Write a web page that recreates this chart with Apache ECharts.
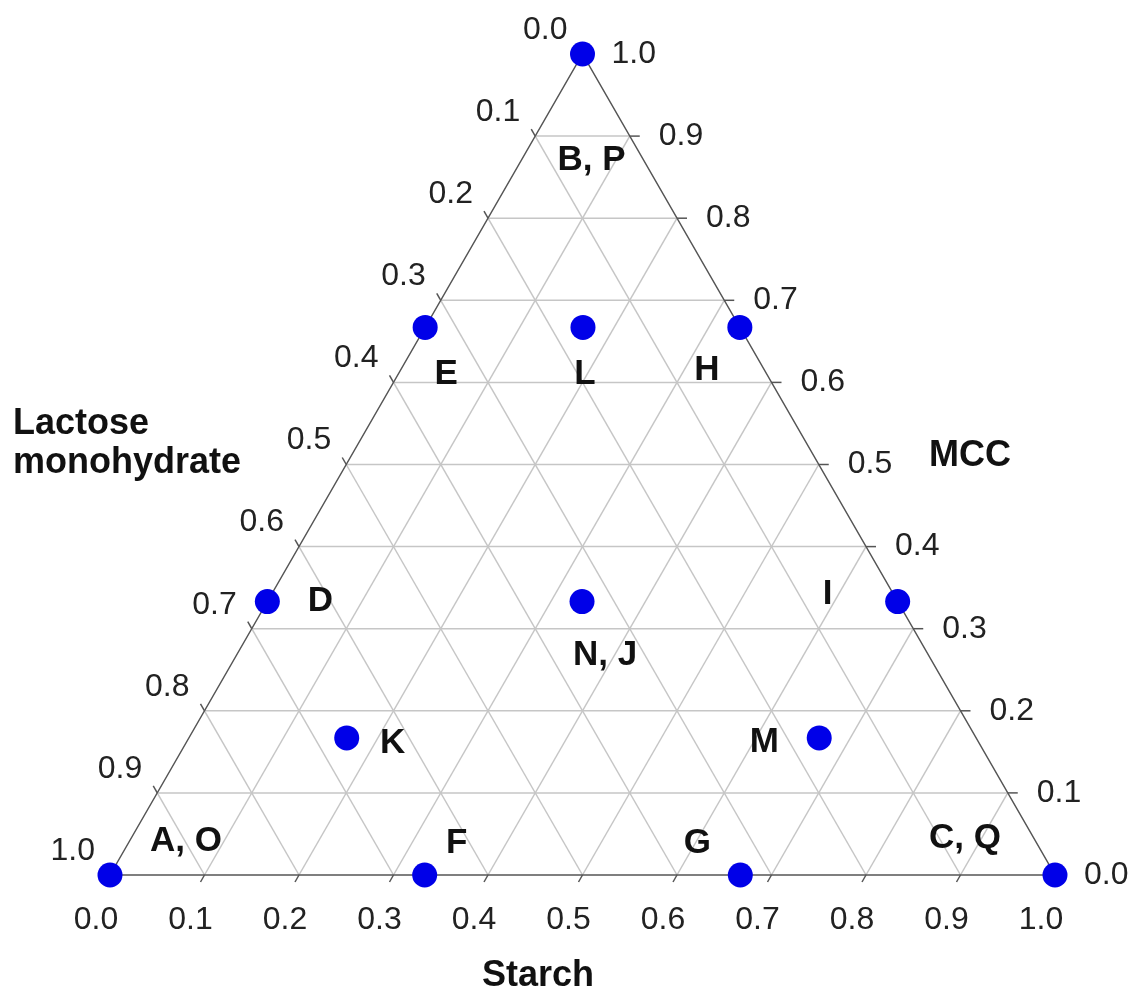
<!DOCTYPE html>
<html>
<head>
<meta charset="utf-8">
<script src="https://cdn.jsdelivr.net/npm/echarts@6/dist/echarts.min.js"></script>
<style>
  html, body { margin: 0; padding: 0; background: #fff; }
  #chart { width: 1136px; height: 994px; }
</style>
</head>
<body>
<div id="chart"></div>
<script>
// mixtures: fractions of lactose, MCC and starch
const pointNames = ['A, O', 'B, P', 'C, Q', 'D', 'E', 'F', 'G', 'H', 'I', 'K', 'L', 'M', 'N, J'];
const lactose = [1, 0, 0, 0.667, 0.333, 0.667, 0.333, 0, 0, 0.667, 0.167, 0.167, 0.333];
const mcc     = [0, 1, 0, 0.333, 0.667, 0, 0, 0.667, 0.333, 0.167, 0.667, 0.167, 0.333];
const starch  = [0, 0, 1, 0, 0, 0.333, 0.667, 0.333, 0.667, 0.167, 0.167, 0.667, 0.333];

const tickValues = [0, 0.1, 0.2, 0.3, 0.4, 0.5, 0.6, 0.7, 0.8, 0.9, 1.0];
const tickLabels = ['0.0', '0.1', '0.2', '0.3', '0.4', '0.5', '0.6', '0.7', '0.8', '0.9', '1.0'];

// pixel offsets of the letter labels from their dot
const labelOffsets = [[76, -34], [9, 106], [-90, -37], [53, 0], [21, 47], [32, -32], [-43, -32],
  [-33, 43], [-70, -7], [46, 5], [2, 47], [-55, 4], [23, 54]];

const FONT = '"Liberation Sans", Arial, sans-serif';

// ternary -> cartesian (x along starch, y = MCC)
const toXY = (l, m, s) => [s + m / 2, m];

const renderFrame = (params, api) => {
  const children = [];
  const pt = (l, m, s) => api.coord(toXY(l, m, s));
  const line = (a, b, color, width) => children.push({
    type: 'line',
    shape: { x1: a[0], y1: a[1], x2: b[0], y2: b[1] },
    style: { stroke: color, lineWidth: width }
  });
  const text = (p, str, align) => children.push({
    type: 'text',
    x: p[0], y: p[1],
    style: { text: str, fontSize: 32, fontFamily: FONT, fill: '#222', align: align, verticalAlign: 'middle' }
  });

  // grid lines
  for (let k = 1; k < tickValues.length - 1; k++) {
    const v = tickValues[k];
    line(pt(1 - v, v, 0), pt(0, v, 1 - v), '#c6c6c6', 1.5);
    line(pt(1 - v, 0, v), pt(0, 1 - v, v), '#c6c6c6', 1.5);
    line(pt(v, 1 - v, 0), pt(v, 0, 1 - v), '#c6c6c6', 1.5);
  }

  // triangle outline
  const a = pt(1, 0, 0), b = pt(0, 1, 0), c = pt(0, 0, 1);
  children.push({
    type: 'polygon',
    shape: { points: [a, b, c] },
    style: { fill: null, stroke: '#555', lineWidth: 1.5 }
  });

  // ticks and tick labels
  tickValues.forEach((v, i) => {
    const ps = pt(1 - v, 0, v);
    line(ps, [ps[0] - 4, ps[1] + 7], '#555', 1.5);
    text([ps[0] - 14, ps[1] + 45], tickLabels[i], 'center');

    const pm = pt(0, v, 1 - v);
    line(pm, [pm[0] + 10, pm[1]], '#555', 1.5);
    text([pm[0] + 29, pm[1]], tickLabels[i], 'left');

    const pl = pt(v, 1 - v, 0);
    line(pl, [pl[0] - 4, pl[1] - 7], '#555', 1.5);
    text([pl[0] - 15, pl[1] - 24], tickLabels[i], 'right');
  });

  return { type: 'group', children: children };
};

const chart = echarts.init(document.getElementById('chart'));

const points = pointNames.map((name, i) => ({
  name: name,
  value: toXY(lactose[i], mcc[i], starch[i]),
  label: { offset: labelOffsets[i] }
}));

const titleStyle = { fontSize: 36, fontWeight: 'bold', fontFamily: FONT, fill: '#111', verticalAlign: 'middle' };

chart.setOption({
  animation: false,
  backgroundColor: '#fff',
  grid: { left: 110, right: 81, top: 54, bottom: 119 },
  xAxis: { type: 'value', min: 0, max: 1, show: false },
  yAxis: { type: 'value', min: 0, max: 1, show: false },
  // axis names
  graphic: [
    { type: 'text', x: 13, y: 424, style: Object.assign({ text: 'Lactose' }, titleStyle) },
    { type: 'text', x: 13, y: 463, style: Object.assign({ text: 'monohydrate' }, titleStyle) },
    { type: 'text', x: 929, y: 456, style: Object.assign({ text: 'MCC' }, titleStyle) },
    { type: 'text', x: 538, y: 976, style: Object.assign({ text: 'Starch', align: 'center' }, titleStyle) }
  ],
  series: [
    {
      type: 'custom',
      renderItem: renderFrame,
      data: [[0, 0]],
      clip: false,
      silent: true,
      z: 1
    },
    {
      type: 'scatter',
      data: points,
      symbol: 'circle',
      symbolSize: 25,
      itemStyle: { color: '#0000e8', opacity: 1 },
      label: {
        show: true,
        position: 'inside',
        formatter: '{b}',
        color: '#111',
        fontSize: 35,
        fontWeight: 'bold',
        fontFamily: FONT
      },
      z: 3
    }
  ]
});
</script>
</body>
</html>
